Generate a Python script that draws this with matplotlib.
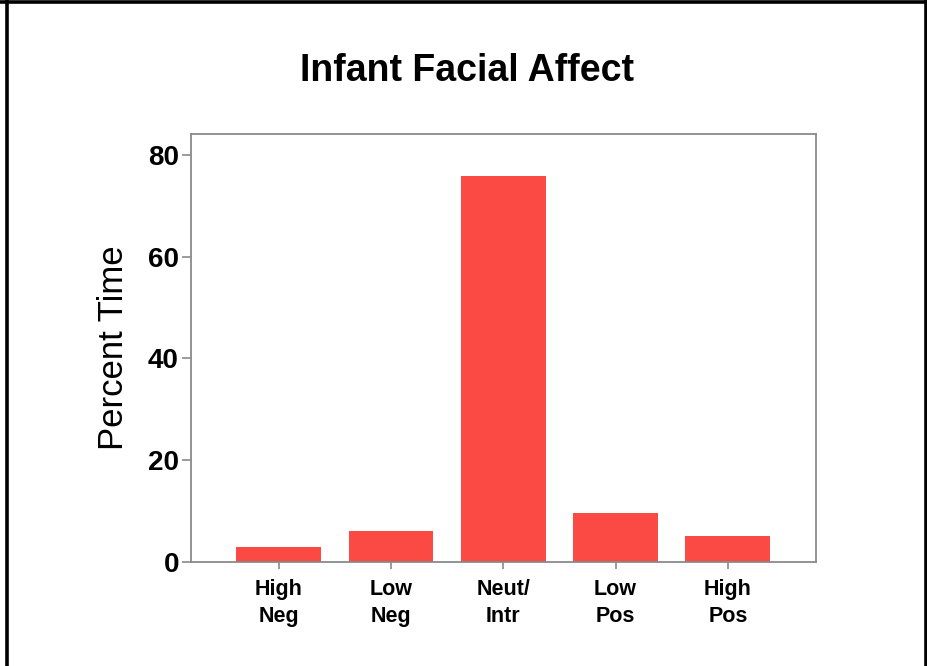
import matplotlib
matplotlib.use("Agg")
import matplotlib.pyplot as plt
from matplotlib.lines import Line2D

# ==============================
# Data
# ==============================
categories = ["High\nNeg", "Low\nNeg", "Neut/\nIntr", "Low\nPos", "High\nPos"]
percent_time = [2.9, 6.1, 75.8, 9.6, 5.2]

BAR_COLOR = "#fb4a43"
SPINE_COLOR = "#8a8a8a"

plt.rcParams["font.family"] = ["Liberation Sans", "DejaVu Sans"]

fig = plt.figure(figsize=(9.28, 6.66), dpi=100)
ax = fig.add_axes([0.2055, 0.1562, 0.6738, 0.6426])

x = range(len(categories))
ax.bar(x, percent_time, width=0.755, color=BAR_COLOR, zorder=2)

ax.set_xlim(-0.785, len(categories) - 1 + 0.785)
ax.set_ylim(0, 84.1)
ax.set_yticks([0, 20, 40, 60, 80])
ax.set_xticks(list(x))
ax.set_xticklabels(categories, fontsize=15.5, fontweight="bold", linespacing=1.4)
for lbl in ax.get_yticklabels():
    lbl.set_fontsize(20)
    lbl.set_fontweight("bold")

ax.tick_params(axis="y", direction="out", length=6.5, width=1.2, color=SPINE_COLOR, pad=2)
ax.tick_params(axis="x", direction="out", length=5, width=1.2, color=SPINE_COLOR, pad=7)

for s in ax.spines.values():
    s.set_color(SPINE_COLOR)
    s.set_linewidth(1.3)

ax.set_ylabel("Percent Time", fontsize=25, labelpad=13)
fig.text(0.503, 0.894, "Infant Facial Affect", ha="center", va="center",
         fontsize=27, fontweight="bold")

# outer frame lines
fig.add_artist(Line2D([0, 1], [0.9965, 0.9965], transform=fig.transFigure, color="black", lw=2.6))
fig.add_artist(Line2D([0.0078, 0.0078], [0, 1], transform=fig.transFigure, color="black", lw=2.6))
fig.add_artist(Line2D([0.9975, 0.9975], [0, 1], transform=fig.transFigure, color="black", lw=2.6))

fig.savefig("out.png", dpi=100, facecolor="white")
